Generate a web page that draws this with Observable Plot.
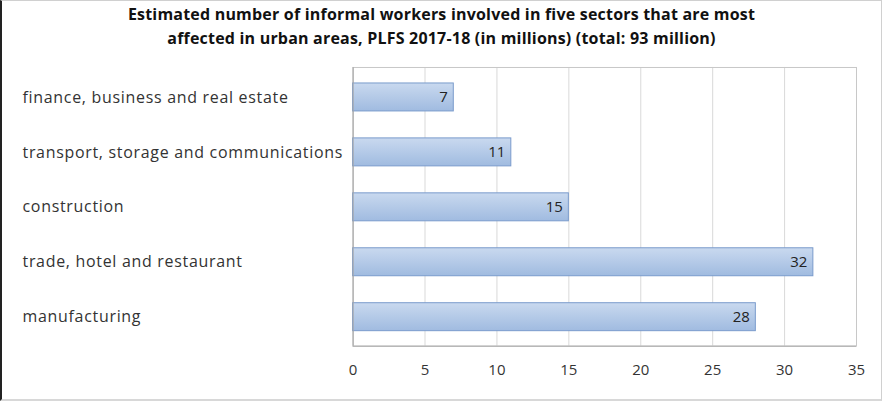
<!DOCTYPE html>
<html>
<head>
<meta charset="utf-8">
<script src="https://cdn.jsdelivr.net/npm/d3@7"></script>
<script src="https://cdn.jsdelivr.net/npm/@observablehq/plot@0.6"></script>
<style>
  html, body { margin: 0; padding: 0; background: #fff; }
  #wrap { position: relative; border-left: 2px solid #222; border-top: 1px solid #d0d0d0; border-bottom: 2px solid #d8d8d8; border-right: 1px solid #d0d0d0; box-sizing: border-box; width: 882px; height: 401px; overflow: hidden; }
  #title { font-family: "Open Sans", Lato, sans-serif; font-weight: 700; font-size: 16px; line-height: 24px; text-align: center; color: #111; padding-top: 1px; height: 51px; letter-spacing: 0.2px; }
  svg { display: block; }
</style>
</head>
<body>
<div id="wrap">
  <div id="title">Estimated number of informal workers involved in five sectors that are most<br>affected in urban areas, PLFS 2017-18 (in millions) (total: 93 million)</div>
  <div id="chart"></div>
</div>
<script>
const sectors = [
  "finance, business and real estate",
  "transport, storage and communications",
  "construction",
  "trade, hotel and restaurant",
  "manufacturing"
];
const workers = [7, 11, 15, 32, 28];
const xTicks = [0, 5, 10, 15, 20, 25, 30, 35];

const data = sectors.map((s, i) => ({sector: s, value: workers[i]}));

const H = 348;
const MB = 55;

const chart = Plot.plot({
  width: 880,
  height: H,
  marginLeft: 351,
  marginRight: 25,
  marginTop: 14,
  marginBottom: MB,
  style: {fontFamily: "Open Sans, Lato, sans-serif", fontSize: "14px", color: "#222"},
  x: {domain: [0, 35], ticks: xTicks, label: null},
  y: {domain: sectors, paddingInner: 0.5, paddingOuter: 0.25, label: null, axis: null},
  marks: [
    Plot.gridX(xTicks, {stroke: "#d9d9d9", strokeOpacity: 1}),
    Plot.frame({stroke: "#c8c8c8"}),
    Plot.barX(data, {x: "value", y: "sector", fill: "url(#barGrad)", stroke: "#7a9bcc", strokeWidth: 1}),
    Plot.text(data, {x: "value", y: "sector", text: d => String(d.value), textAnchor: "end", dx: -6, fill: "#222", fontSize: 15}),
    Plot.text(sectors, {y: d => d, frameAnchor: "left", dx: -331, text: d => d, textAnchor: "start", fill: "#333", fontSize: 16}),
    Plot.axisX({ticks: xTicks, tickSize: 0, tickPadding: 18, fontSize: 15, fill: "#333", label: null}),
    Plot.ruleX([0], {stroke: "#a6a6a6"})
  ]
});

const svg = d3.select(chart);
svg.selectAll("text").filter(function(){ return this.parentNode && this.parentNode.getAttribute && this.parentNode.getAttribute("font-size") === "16"; }).style("letter-spacing", "0.7px");
const defs = svg.insert("defs", ":first-child");
const g = defs.append("linearGradient").attr("id", "barGrad").attr("x1", 0).attr("y1", 0).attr("x2", 0).attr("y2", 1);
g.append("stop").attr("offset", "0%").attr("stop-color", "#c9d9ef");
g.append("stop").attr("offset", "100%").attr("stop-color", "#a0bbe0");

// bottom axis line
const xs = chart.scale("x");
svg.append("line")
  .attr("x1", xs.range[0]).attr("x2", xs.range[1])
  .attr("y1", H - MB + 0.5).attr("y2", H - MB + 0.5)
  .attr("stroke", "#a6a6a6");

document.getElementById("chart").appendChild(chart);
</script>
</body>
</html>
